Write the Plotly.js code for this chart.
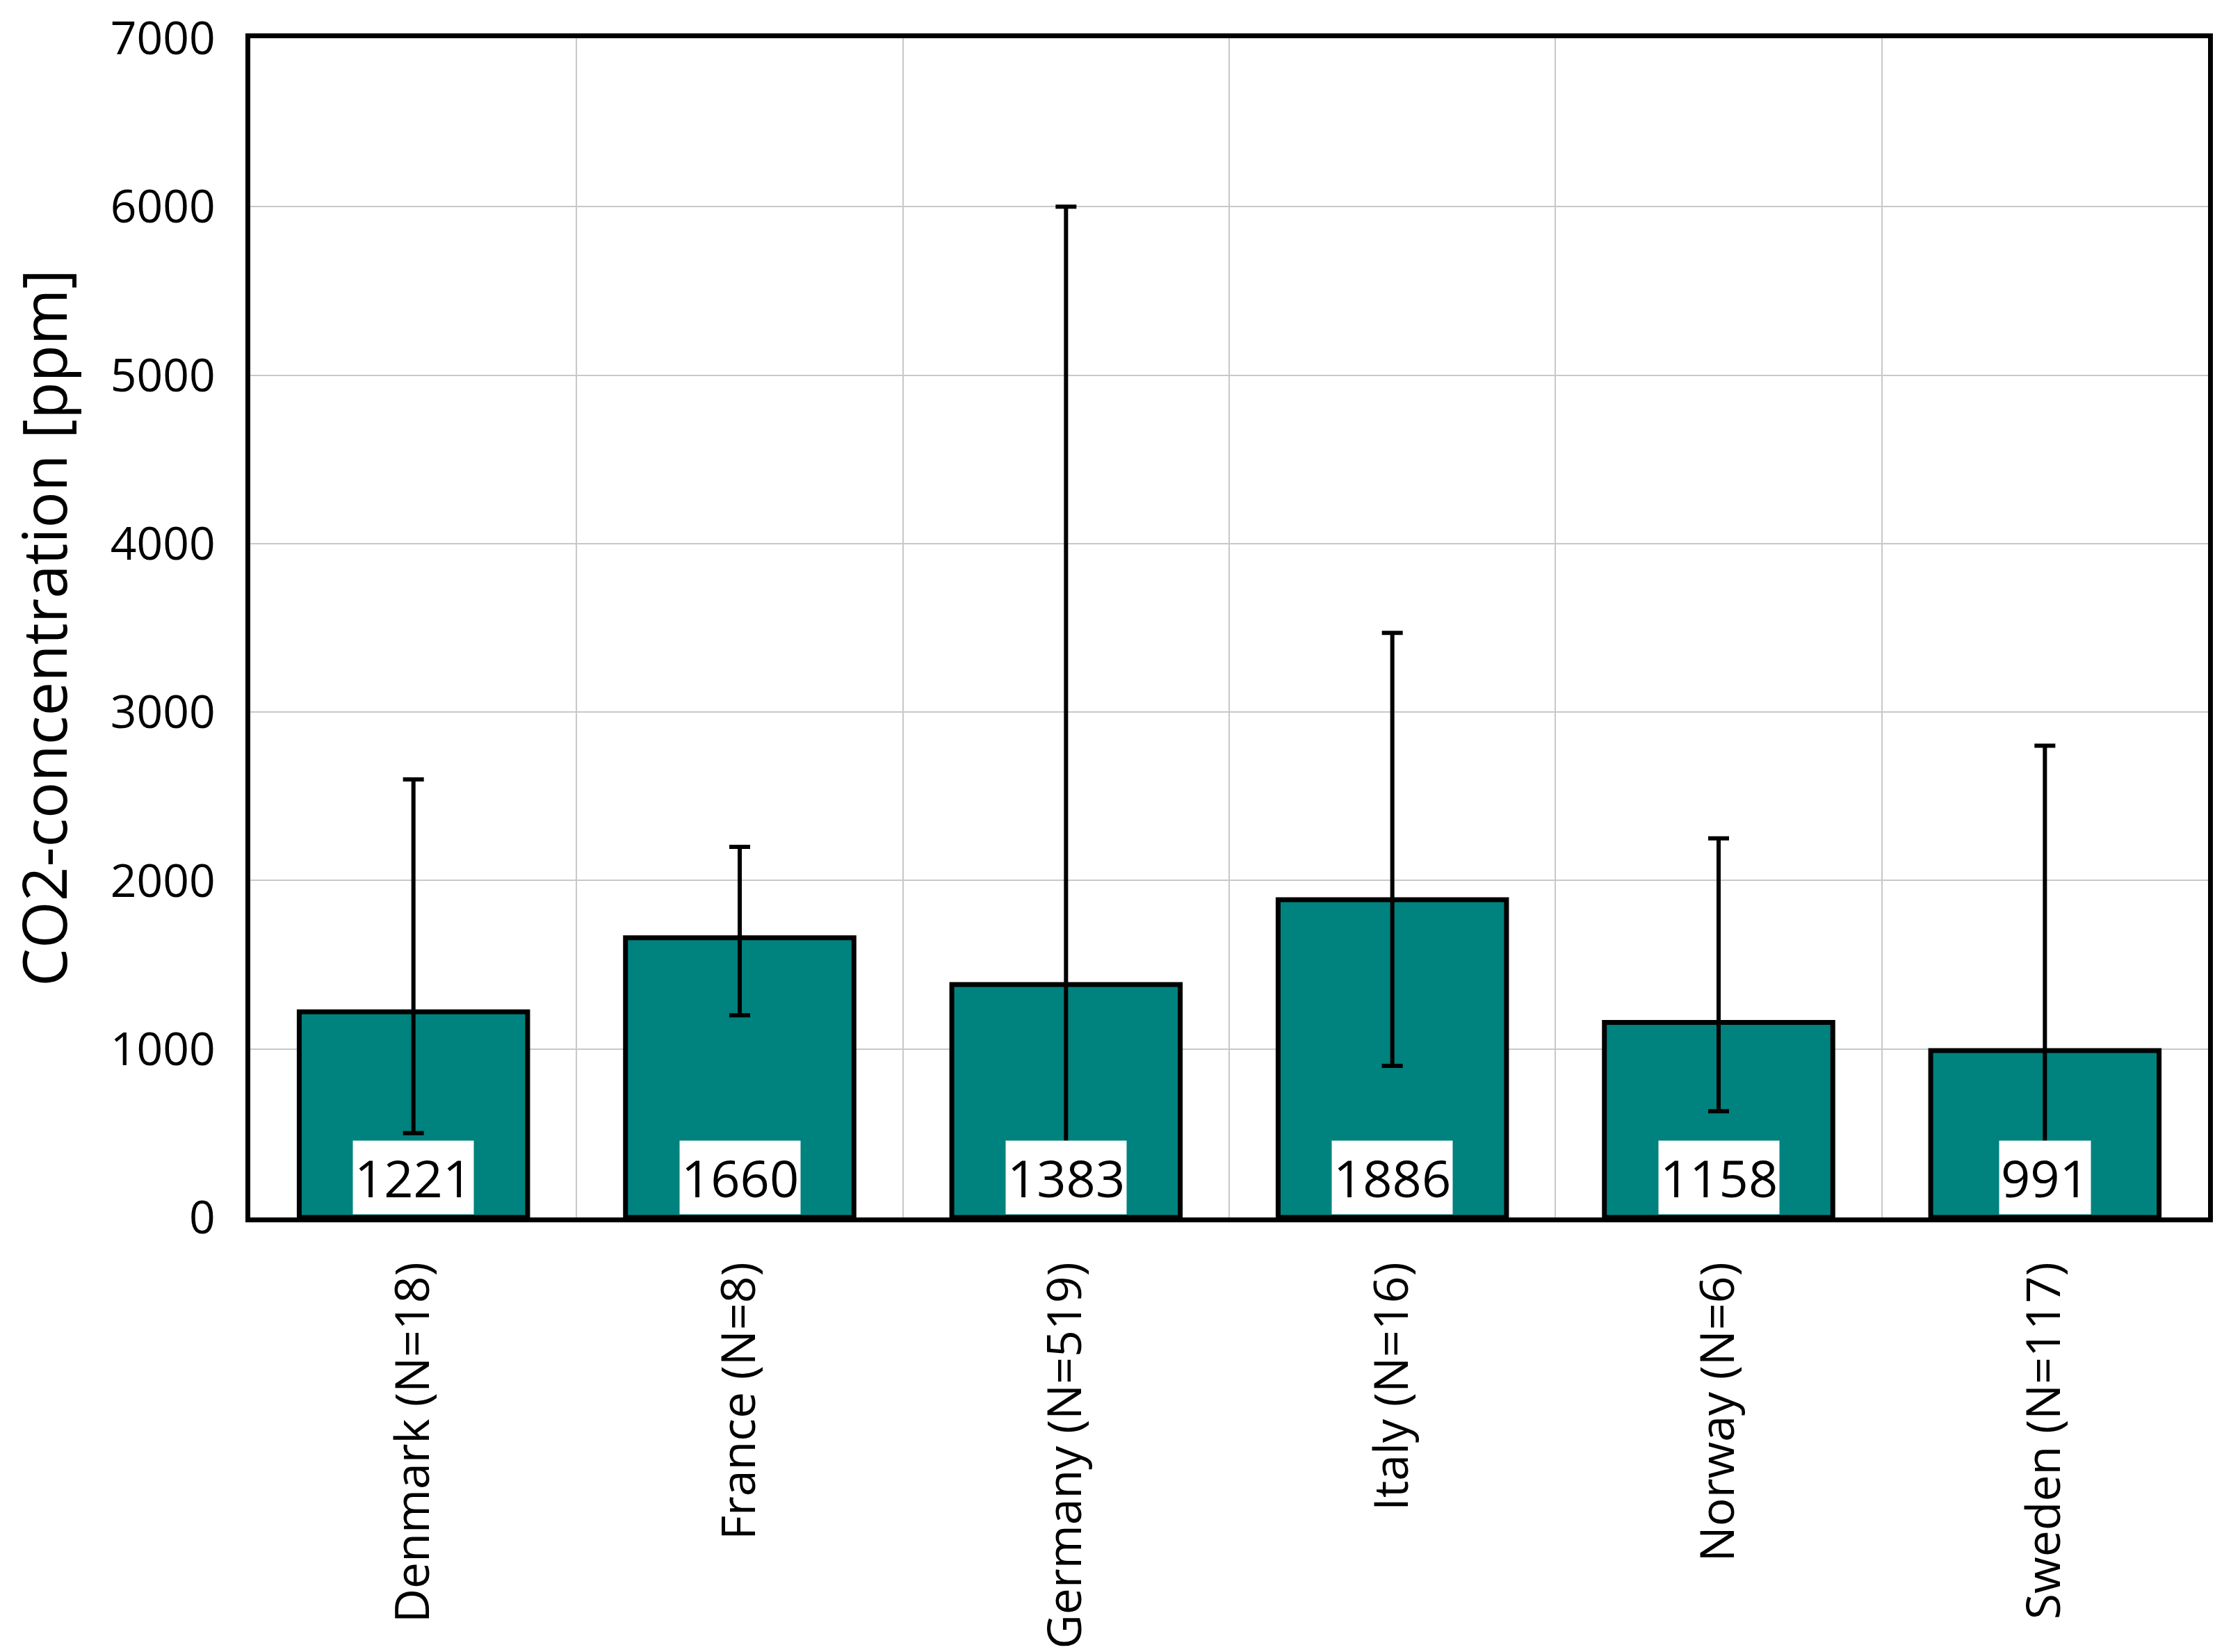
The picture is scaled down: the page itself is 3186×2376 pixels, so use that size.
<!DOCTYPE html>
<html>
<head>
<meta charset="utf-8">
<script src="https://cdn.plot.ly/plotly-3.0.1.min.js"></script>
<style>body{margin:0;background:#fff}</style>
</head>
<body>
<div id="chart" style="width:3186px;height:2376px"></div>
<script>
// values
const countries = ['Denmark (N=18)', 'France (N=8)', 'Germany (N=519)', 'Italy (N=16)', 'Norway (N=6)', 'Sweden (N=117)'];
const meanCo2 = [1221, 1660, 1383, 1886, 1158, 991];
const maxCo2 = [2600, 2200, 6000, 3470, 2250, 2800];
const minCo2 = [500, 1200, 350, 900, 630, 430];
const yTicks = [0, 1000, 2000, 3000, 4000, 5000, 6000, 7000];

const fnt = 'Open Sans, Noto Sans, sans-serif';

const bars = {
    type: 'bar',
    x: countries,
    y: meanCo2,
    marker: { color: '#00827f', line: { color: '#000', width: 7 } },
    error_y: {
        type: 'data',
        symmetric: false,
        array: maxCo2.map((v, i) => v - meanCo2[i]),
        arrayminus: minCo2.map((v, i) => meanCo2[i] - v),
        color: '#000',
        thickness: 6,
        width: 15
    },
    hoverinfo: 'none'
};

// white value boxes at the foot of each bar
const labels = countries.map((c, i) => ({
    x: c, y: 0, xref: 'x', yref: 'y',
    yanchor: 'bottom', yshift: 4,
    text: String(meanCo2[i]),
    showarrow: false,
    bgcolor: '#fff',
    borderpad: 2,
    font: { family: fnt, size: 74, color: '#000' }
}));

Plotly.newPlot('chart', [bars], {
    width: 3186, height: 2376,
    margin: { l: 360, r: 10, t: 55, b: 625 },
    paper_bgcolor: '#fff', plot_bgcolor: '#fff',
    bargap: 0.3,
    showlegend: false,
    xaxis: {
        type: 'category',
        tickson: 'boundaries',
        ticks: '',
        tickangle: -90,
        ticklabelstandoff: 30,
        showgrid: true, gridcolor: '#c8c8c8', gridwidth: 2,
        showline: true, linecolor: '#000', linewidth: 7, mirror: true,
        tickfont: { family: fnt, size: 68, color: '#000' }
    },
    yaxis: {
        range: [0, 7000],
        tickvals: yTicks,
        ticks: '',
        ticklabelstandoff: 30,
        showgrid: true, gridcolor: '#c8c8c8', gridwidth: 2,
        zeroline: false,
        showline: true, linecolor: '#000', linewidth: 7, mirror: true,
        tickfont: { family: fnt, size: 66, color: '#000' },
        title: { text: 'CO2-concentration [ppm]', standoff: 36, font: { family: fnt, size: 87, color: '#000' } }
    },
    annotations: labels
}, { displayModeBar: false, staticPlot: true });
</script>
</body>
</html>
